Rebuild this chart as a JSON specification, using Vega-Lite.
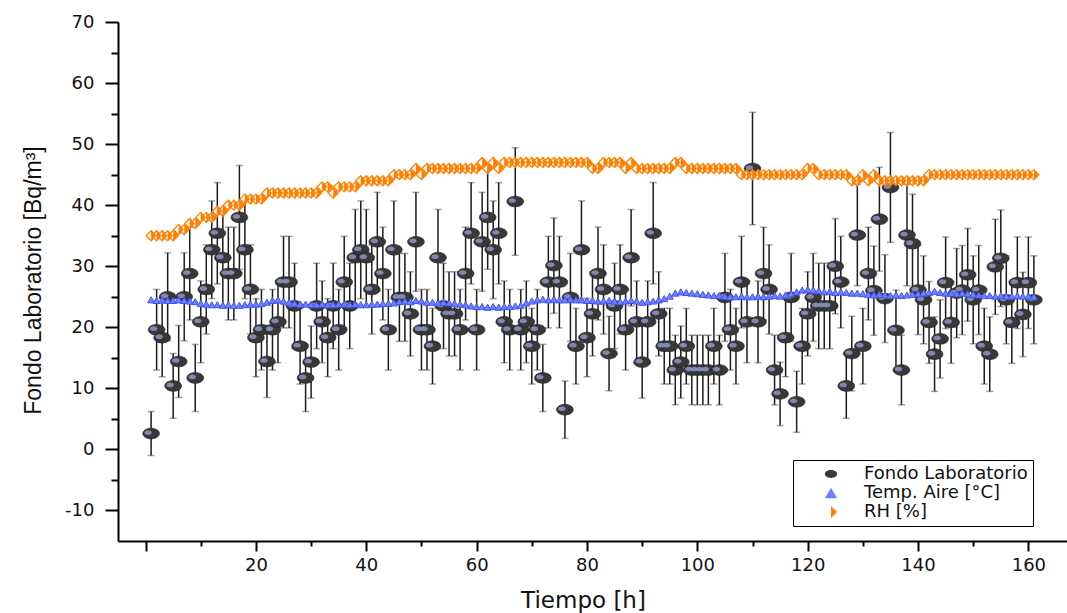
{
  "$schema": "https://vega.github.io/schema/vega-lite/v6.json",
  "width": 949,
  "height": 519,
  "autosize": {"type": "none"},
  "padding": {"left": 118, "top": 22, "right": 0, "bottom": 72},
  "background": "white",
  "config": {
    "view": {"stroke": null},
    "axis": {"grid": false},
    "legend": {"symbolOpacity": 1}
  },
  "datasets": {
    "radon": [
      {"t":1,"v":2.6,"e":3.6},{"t":2,"v":19.6,"e":6.6},{"t":3,"v":18.3,"e":6.4},{"t":4,"v":25.0,"e":7.2},{"t":5,"v":10.4,"e":5.3},
      {"t":6,"v":14.4,"e":5.9},{"t":7,"v":25.0,"e":7.2},{"t":8,"v":28.8,"e":7.6},{"t":9,"v":11.7,"e":5.5},{"t":10,"v":20.9,"e":6.7},
      {"t":11,"v":26.2,"e":7.3},{"t":12,"v":32.7,"e":8.0},{"t":13,"v":35.4,"e":8.3},{"t":14,"v":31.4,"e":7.9},{"t":15,"v":28.8,"e":7.6},
      {"t":16,"v":28.8,"e":7.6},{"t":17,"v":38.0,"e":8.5},{"t":18,"v":32.7,"e":8.0},{"t":19,"v":26.2,"e":7.3},{"t":20,"v":18.3,"e":6.4},
      {"t":21,"v":19.6,"e":6.6},{"t":22,"v":14.4,"e":5.9},{"t":23,"v":19.6,"e":6.6},{"t":24,"v":20.9,"e":6.7},{"t":25,"v":27.4,"e":7.5},
      {"t":26,"v":27.4,"e":7.5},{"t":27,"v":23.5,"e":7.0},{"t":28,"v":16.9,"e":6.2},{"t":29,"v":11.7,"e":5.5},{"t":30,"v":14.3,"e":5.9},
      {"t":31,"v":23.5,"e":7.0},{"t":32,"v":20.9,"e":6.7},{"t":33,"v":18.3,"e":6.4},{"t":34,"v":23.5,"e":7.0},{"t":35,"v":19.6,"e":6.6},
      {"t":36,"v":27.4,"e":7.5},{"t":37,"v":23.5,"e":7.0},{"t":38,"v":31.4,"e":7.9},{"t":39,"v":32.7,"e":8.0},{"t":40,"v":31.4,"e":7.9},
      {"t":41,"v":26.2,"e":7.3},{"t":42,"v":34.0,"e":8.1},{"t":43,"v":28.8,"e":7.6},{"t":44,"v":19.6,"e":6.6},{"t":45,"v":32.7,"e":8.0},
      {"t":46,"v":24.9,"e":7.2},{"t":47,"v":24.9,"e":7.2},{"t":48,"v":22.2,"e":6.9},{"t":49,"v":34.0,"e":8.1},{"t":50,"v":19.6,"e":6.6},
      {"t":51,"v":19.6,"e":6.6},{"t":52,"v":16.9,"e":6.2},{"t":53,"v":31.4,"e":7.9},{"t":54,"v":23.5,"e":7.0},{"t":55,"v":22.2,"e":6.9},
      {"t":56,"v":22.2,"e":6.9},{"t":57,"v":19.6,"e":6.6},{"t":58,"v":28.8,"e":7.6},{"t":59,"v":35.4,"e":8.3},{"t":60,"v":19.6,"e":6.6},
      {"t":61,"v":34.0,"e":8.1},{"t":62,"v":38.0,"e":8.5},{"t":63,"v":32.7,"e":8.0},{"t":64,"v":35.4,"e":8.3},{"t":65,"v":20.9,"e":6.7},
      {"t":66,"v":19.6,"e":6.6},{"t":67,"v":40.6,"e":8.8},{"t":68,"v":19.6,"e":6.6},{"t":69,"v":20.9,"e":6.7},{"t":70,"v":16.9,"e":6.2},
      {"t":71,"v":19.6,"e":6.6},{"t":72,"v":11.7,"e":5.5},{"t":73,"v":27.4,"e":7.5},{"t":74,"v":30.1,"e":7.8},{"t":75,"v":27.4,"e":7.5},
      {"t":76,"v":6.5,"e":4.7},{"t":77,"v":24.9,"e":7.2},{"t":78,"v":16.9,"e":6.2},{"t":79,"v":32.7,"e":8.0},{"t":80,"v":18.3,"e":6.4},
      {"t":81,"v":22.2,"e":6.9},{"t":82,"v":28.8,"e":7.6},{"t":83,"v":26.2,"e":7.3},{"t":84,"v":15.7,"e":6.1},{"t":85,"v":23.5,"e":7.0},
      {"t":86,"v":26.2,"e":7.3},{"t":87,"v":19.6,"e":6.6},{"t":88,"v":31.4,"e":7.9},{"t":89,"v":20.9,"e":6.7},{"t":90,"v":14.3,"e":5.9},
      {"t":91,"v":20.9,"e":6.7},{"t":92,"v":35.4,"e":8.3},{"t":93,"v":22.2,"e":6.9},{"t":94,"v":16.9,"e":6.2},{"t":95,"v":16.9,"e":6.2},
      {"t":96,"v":13.0,"e":5.7},{"t":97,"v":14.3,"e":5.9},{"t":98,"v":16.9,"e":6.2},{"t":99,"v":13.0,"e":5.7},{"t":100,"v":13.0,"e":5.7},
      {"t":101,"v":13.0,"e":5.7},{"t":102,"v":13.0,"e":5.7},{"t":103,"v":16.9,"e":6.2},{"t":104,"v":13.0,"e":5.7},{"t":105,"v":24.9,"e":7.2},
      {"t":106,"v":19.6,"e":6.6},{"t":107,"v":16.9,"e":6.2},{"t":108,"v":27.4,"e":7.5},{"t":109,"v":20.9,"e":6.7},{"t":110,"v":46.0,"e":9.2},
      {"t":111,"v":20.9,"e":6.7},{"t":112,"v":28.8,"e":7.6},{"t":113,"v":26.2,"e":7.3},{"t":114,"v":13.0,"e":5.7},{"t":115,"v":9.1,"e":5.2},
      {"t":116,"v":18.3,"e":6.4},{"t":117,"v":24.9,"e":7.2},{"t":118,"v":7.8,"e":5.0},{"t":119,"v":16.9,"e":6.2},{"t":120,"v":22.2,"e":6.9},
      {"t":121,"v":24.9,"e":7.2},{"t":122,"v":23.5,"e":7.0},{"t":123,"v":23.5,"e":7.0},{"t":124,"v":23.5,"e":7.0},{"t":125,"v":30.0,"e":7.8},
      {"t":126,"v":27.4,"e":7.5},{"t":127,"v":10.4,"e":5.3},{"t":128,"v":15.7,"e":6.1},{"t":129,"v":35.1,"e":8.3},{"t":130,"v":16.9,"e":6.2},
      {"t":131,"v":28.8,"e":7.6},{"t":132,"v":26.0,"e":7.3},{"t":133,"v":37.7,"e":8.5},{"t":134,"v":24.7,"e":7.2},{"t":135,"v":42.9,"e":9.0},
      {"t":136,"v":19.5,"e":6.6},{"t":137,"v":13.0,"e":5.7},{"t":138,"v":35.1,"e":8.3},{"t":139,"v":33.7,"e":8.1},{"t":140,"v":26.1,"e":7.3},
      {"t":141,"v":24.5,"e":7.2},{"t":142,"v":20.8,"e":6.7},{"t":143,"v":15.6,"e":6.1},{"t":144,"v":18.1,"e":6.4},{"t":145,"v":27.3,"e":7.5},
      {"t":146,"v":20.8,"e":6.7},{"t":147,"v":25.6,"e":7.3},{"t":148,"v":26.1,"e":7.3},{"t":149,"v":28.6,"e":7.6},{"t":150,"v":24.5,"e":7.2},
      {"t":151,"v":26.1,"e":7.3},{"t":152,"v":16.9,"e":6.2},{"t":153,"v":15.6,"e":6.1},{"t":154,"v":29.9,"e":7.8},{"t":155,"v":31.3,"e":7.9},
      {"t":156,"v":24.5,"e":7.2},{"t":157,"v":20.8,"e":6.7},{"t":158,"v":27.3,"e":7.5},{"t":159,"v":22.1,"e":6.9},{"t":160,"v":27.3,"e":7.5},
      {"t":161,"v":24.5,"e":7.2}
    ],
    "temp": [
      {"t":1,"v":24.5},{"t":2,"v":24.4},{"t":3,"v":24.5},{"t":4,"v":24.4},{"t":5,"v":24.4},{"t":6,"v":24.5},{"t":7,"v":24.4},{"t":8,"v":24.3},{"t":9,"v":24.2},
      {"t":10,"v":23.9},{"t":11,"v":23.8},{"t":12,"v":23.7},{"t":13,"v":23.7},{"t":14,"v":23.6},{"t":15,"v":23.7},{"t":16,"v":23.6},{"t":17,"v":23.6},{"t":18,"v":23.7},{"t":19,"v":23.8},{"t":20,"v":23.8},{"t":21,"v":23.9},{"t":22,"v":24.1},
      {"t":23,"v":24.4},{"t":24,"v":24.5},{"t":25,"v":24.3},{"t":26,"v":24.1},
      {"t":27,"v":23.9},{"t":28,"v":23.8},{"t":29,"v":23.8},{"t":30,"v":23.7},{"t":31,"v":23.7},{"t":32,"v":23.8},{"t":33,"v":23.7},{"t":34,"v":23.7},{"t":35,"v":23.8},{"t":36,"v":23.8},{"t":37,"v":23.7},{"t":38,"v":23.8},{"t":39,"v":23.7},{"t":40,"v":23.7},{"t":41,"v":23.8},{"t":42,"v":23.8},{"t":43,"v":23.9},{"t":44,"v":23.9},{"t":45,"v":24.0},
      {"t":46,"v":24.2},{"t":47,"v":24.3},{"t":48,"v":24.2},{"t":49,"v":24.4},{"t":50,"v":24.3},{"t":51,"v":24.1},{"t":52,"v":24.1},{"t":53,"v":24.0},{"t":54,"v":24.1},{"t":55,"v":24.0},{"t":56,"v":23.9},{"t":57,"v":23.8},{"t":58,"v":23.7},
      {"t":59,"v":23.5},{"t":60,"v":23.4},{"t":61,"v":23.4},{"t":62,"v":23.3},{"t":63,"v":23.4},{"t":64,"v":23.3},{"t":65,"v":23.4},{"t":66,"v":23.4},{"t":67,"v":23.5},{"t":68,"v":23.6},
      {"t":69,"v":24.0},{"t":70,"v":24.3},{"t":71,"v":24.5},{"t":72,"v":24.6},{"t":73,"v":24.5},{"t":74,"v":24.6},{"t":75,"v":24.5},{"t":76,"v":24.5},{"t":77,"v":24.6},{"t":78,"v":24.5},{"t":79,"v":24.5},
      {"t":80,"v":24.4},{"t":81,"v":24.4},{"t":82,"v":24.3},{"t":83,"v":24.3},{"t":84,"v":24.4},{"t":85,"v":24.3},{"t":86,"v":24.2},{"t":87,"v":24.3},{"t":88,"v":24.4},{"t":89,"v":24.3},{"t":90,"v":24.1},{"t":91,"v":24.2},{"t":92,"v":24.3},{"t":93,"v":24.5},{"t":94,"v":24.7},{"t":95,"v":25.1},
      {"t":96,"v":25.6},{"t":97,"v":25.8},{"t":98,"v":25.7},{"t":99,"v":25.6},{"t":100,"v":25.5},
      {"t":101,"v":25.4},{"t":102,"v":25.3},{"t":103,"v":25.2},{"t":104,"v":25.2},{"t":105,"v":25.1},{"t":106,"v":25.0},{"t":107,"v":25.0},{"t":108,"v":25.1},{"t":109,"v":25.0},{"t":110,"v":25.0},{"t":111,"v":25.1},{"t":112,"v":25.0},{"t":113,"v":25.1},{"t":114,"v":25.2},{"t":115,"v":25.1},{"t":116,"v":25.3},{"t":117,"v":25.5},{"t":118,"v":25.8},
      {"t":119,"v":26.1},{"t":120,"v":26.2},{"t":121,"v":26.1},{"t":122,"v":26.0},
      {"t":123,"v":25.8},{"t":124,"v":25.9},{"t":125,"v":25.7},{"t":126,"v":25.8},{"t":127,"v":25.7},{"t":128,"v":25.6},{"t":129,"v":25.6},{"t":130,"v":25.5},
      {"t":131,"v":25.4},{"t":132,"v":25.3},{"t":133,"v":25.4},{"t":134,"v":25.3},{"t":135,"v":25.2},{"t":136,"v":25.3},{"t":137,"v":25.2},{"t":138,"v":25.3},{"t":139,"v":25.4},{"t":140,"v":25.5},
      {"t":141,"v":25.6},{"t":142,"v":25.7},{"t":143,"v":25.9},{"t":144,"v":25.7},{"t":145,"v":25.6},{"t":146,"v":25.6},{"t":147,"v":25.5},{"t":148,"v":25.6},{"t":149,"v":25.5},{"t":150,"v":25.4},
      {"t":151,"v":25.3},{"t":152,"v":25.2},{"t":153,"v":25.2},{"t":154,"v":25.1},{"t":155,"v":25.2},{"t":156,"v":25.1},{"t":157,"v":25.1},{"t":158,"v":25.2},{"t":159,"v":25.1},{"t":160,"v":25.1},{"t":161,"v":25.0}
    ],
    "rh": [
      {"t":1,"v":35},{"t":2,"v":35},{"t":3,"v":35},{"t":4,"v":35},{"t":5,"v":35},{"t":6,"v":36},{"t":7,"v":36},{"t":8,"v":37},{"t":9,"v":37},{"t":10,"v":38},
      {"t":11,"v":38},{"t":12,"v":38},{"t":13,"v":39},{"t":14,"v":39},{"t":15,"v":40},{"t":16,"v":40},{"t":17,"v":40},{"t":18,"v":41},{"t":19,"v":41},{"t":20,"v":41},
      {"t":21,"v":41},{"t":22,"v":42},{"t":23,"v":42},{"t":24,"v":42},{"t":25,"v":42},{"t":26,"v":42},{"t":27,"v":42},{"t":28,"v":42},{"t":29,"v":42},{"t":30,"v":42},
      {"t":31,"v":42},{"t":32,"v":43},{"t":33,"v":43},{"t":34,"v":42},{"t":35,"v":43},{"t":36,"v":43},{"t":37,"v":43},{"t":38,"v":43},{"t":39,"v":44},{"t":40,"v":44},
      {"t":41,"v":44},{"t":42,"v":44},{"t":43,"v":44},{"t":44,"v":44},{"t":45,"v":45},{"t":46,"v":45},{"t":47,"v":45},{"t":48,"v":45},{"t":49,"v":46},{"t":50,"v":45},
      {"t":51,"v":46},{"t":52,"v":46},{"t":53,"v":46},{"t":54,"v":46},{"t":55,"v":46},{"t":56,"v":46},{"t":57,"v":46},{"t":58,"v":46},{"t":59,"v":46},{"t":60,"v":46},
      {"t":61,"v":47},{"t":62,"v":46},{"t":63,"v":47},{"t":64,"v":46},{"t":65,"v":47},{"t":66,"v":47},{"t":67,"v":47},{"t":68,"v":47},{"t":69,"v":47},{"t":70,"v":47},
      {"t":71,"v":47},{"t":72,"v":47},{"t":73,"v":47},{"t":74,"v":47},{"t":75,"v":47},{"t":76,"v":47},{"t":77,"v":47},{"t":78,"v":47},{"t":79,"v":47},{"t":80,"v":47},
      {"t":81,"v":46},{"t":82,"v":46},{"t":83,"v":47},{"t":84,"v":47},{"t":85,"v":47},{"t":86,"v":47},{"t":87,"v":46},{"t":88,"v":47},{"t":89,"v":46},{"t":90,"v":46},
      {"t":91,"v":46},{"t":92,"v":46},{"t":93,"v":46},{"t":94,"v":46},{"t":95,"v":46},{"t":96,"v":47},{"t":97,"v":47},{"t":98,"v":46},{"t":99,"v":46},{"t":100,"v":46},
      {"t":101,"v":46},{"t":102,"v":46},{"t":103,"v":46},{"t":104,"v":46},{"t":105,"v":46},{"t":106,"v":46},{"t":107,"v":46},{"t":108,"v":45},{"t":109,"v":45},{"t":110,"v":45},
      {"t":111,"v":45},{"t":112,"v":45},{"t":113,"v":45},{"t":114,"v":45},{"t":115,"v":45},{"t":116,"v":45},{"t":117,"v":45},{"t":118,"v":45},{"t":119,"v":45},{"t":120,"v":46},
      {"t":121,"v":46},{"t":122,"v":45},{"t":123,"v":45},{"t":124,"v":45},{"t":125,"v":45},{"t":126,"v":45},{"t":127,"v":45},{"t":128,"v":44},{"t":129,"v":44},{"t":130,"v":45},
      {"t":131,"v":44},{"t":132,"v":45},{"t":133,"v":44},{"t":134,"v":44},{"t":135,"v":44},{"t":136,"v":44},{"t":137,"v":44},{"t":138,"v":44},{"t":139,"v":44},{"t":140,"v":44},
      {"t":141,"v":44},{"t":142,"v":45},{"t":143,"v":45},{"t":144,"v":45},{"t":145,"v":45},{"t":146,"v":45},{"t":147,"v":45},{"t":148,"v":45},{"t":149,"v":45},{"t":150,"v":45},
      {"t":151,"v":45},{"t":152,"v":45},{"t":153,"v":45},{"t":154,"v":45},{"t":155,"v":45},{"t":156,"v":45},{"t":157,"v":45},{"t":158,"v":45},{"t":159,"v":45},{"t":160,"v":45},
      {"t":161,"v":45}
    ]
  },
  "resolve": {"axis": {"x": "independent", "y": "independent"}},
  "layer": [
    {
      "data": {"name": "radon"},
      "mark": {"type": "errorbar", "ticks": {"size": 7, "thickness": 1.5, "color": "#7a7a7a"}, "rule": {"color": "#1c1c1c", "strokeWidth": 1.5}},
      "encoding": {
        "x": {"field": "t", "type": "quantitative", "scale": {"domain": [-5, 167], "nice": false, "zero": false}, "axis": null},
        "y": {"field": "v", "type": "quantitative", "scale": {"domain": [-15, 70], "nice": false, "zero": false}, "axis": null},
        "yError": {"field": "e"}
      }
    },
    {
      "data": {"name": "radon"},
      "mark": {"type": "point", "filled": true, "opacity": 1, "size": 280, "stroke": "#1e1e1e", "strokeWidth": 0.6},
      "encoding": {
        "x": {"field": "t", "type": "quantitative", "scale": {"domain": [-5, 167], "nice": false, "zero": false},
          "axis": {"orient": "bottom", "values": [0, 20, 40, 60, 80, 100, 120, 140, 160], "labelExpr": "datum.value == 0 ? '' : datum.label",
            "domainColor": "#000", "domainWidth": 2, "tickColor": "#000", "tickWidth": 2, "tickSize": 10,
            "labelFont": "DejaVu Sans", "labelFontSize": 18, "labelColor": "#111", "labelPadding": 5, "labelFlush": false,
            "title": "Tiempo [h]", "titleFont": "DejaVu Sans", "titleFontSize": 23, "titleFontWeight": "normal", "titleColor": "#111",
            "titleX": 465, "titleY": 66, "titleBaseline": "alphabetic", "titleAlign": "center", "titleAnchor": "start"}},
        "y": {"field": "v", "type": "quantitative", "scale": {"domain": [-15, 70], "nice": false, "zero": false},
          "axis": {"orient": "left", "values": [-10, 0, 10, 20, 30, 40, 50, 60, 70], "labelExpr": "replace(datum.label, '−', '-')",
            "domainColor": "#000", "domainWidth": 2, "tickColor": "#000", "tickWidth": 2, "tickSize": 13,
            "labelFont": "DejaVu Sans", "labelFontSize": 18, "labelColor": "#111", "labelPadding": 11, "labelFlush": false,
            "title": "Fondo Laboratorio [Bq/m³]", "titleFont": "Liberation Sans Narrow, Liberation Sans, sans-serif", "titleFontSize": 23, "titleFontWeight": "normal", "titleColor": "#111",
            "titleX": -78, "titleY": 258, "titleAngle": 270, "titleBaseline": "alphabetic", "titleAlign": "center", "titleAnchor": "start"}},
        "color": {"datum": "Fondo Laboratorio", "type": "nominal",
          "scale": {"domain": ["Fondo Laboratorio", "Temp. Aire [°C]", "RH [%]"], "range": ["#383838", "#6f80ff", "#ff8000"]},
          "legend": {"title": null, "orient": "none", "legendX": 675, "legendY": 438, "strokeColor": "#000", "fillColor": "#fff",
            "padding": 5, "symbolOffset": 24, "labelOffset": 24, "labelFont": "DejaVu Sans", "labelFontSize": 18, "labelColor": "#111",
            "labelExpr": "datum.label + '\u00a0\u00a0\u00a0\u00a0'",
            "rowPadding": 1, "symbolSize": 150, "symbolStrokeWidth": 0, "labelLimit": 400}},
        "shape": {"datum": "Fondo Laboratorio", "type": "nominal",
          "scale": {"domain": ["Fondo Laboratorio", "Temp. Aire [°C]", "RH [%]"], "range": ["M-1,0A1,0.64,0,1,0,1,0A1,0.64,0,1,0,-1,0Z", "triangle-up", "M0,-1L1,0L0,1Z"]},
          "legend": {"title": null, "orient": "none", "legendX": 675, "legendY": 438, "strokeColor": "#000", "fillColor": "#fff",
            "padding": 5, "symbolOffset": 24, "labelOffset": 24, "labelFont": "DejaVu Sans", "labelFontSize": 18, "labelColor": "#111",
            "labelExpr": "datum.label + '\u00a0\u00a0\u00a0\u00a0'",
            "rowPadding": 1, "symbolSize": 150, "symbolStrokeWidth": 0, "labelLimit": 400}}
      }
    },
    {
      "data": {"name": "radon"},
      "mark": {"type": "point", "filled": true, "opacity": 0.85, "size": 55, "shape": "M-1,0A1,0.64,0,1,0,1,0A1,0.64,0,1,0,-1,0Z", "color": "#8d95c6", "xOffset": -3, "yOffset": -1},
      "encoding": {
        "x": {"field": "t", "type": "quantitative", "scale": {"domain": [-5, 167], "nice": false, "zero": false}, "axis": null},
        "y": {"field": "v", "type": "quantitative", "scale": {"domain": [-15, 70], "nice": false, "zero": false}, "axis": null}
      }
    },
    {
      "data": {"name": "temp"},
      "mark": {"type": "point", "filled": true, "opacity": 1, "size": 50, "stroke": "#4356f0", "strokeWidth": 1},
      "encoding": {
        "x": {"field": "t", "type": "quantitative", "scale": {"domain": [-5, 167], "nice": false, "zero": false},
          "axis": {"orient": "bottom", "values": [10, 30, 50, 70, 90, 110, 130, 150], "labels": false, "domain": false,
            "tickColor": "#000", "tickWidth": 2, "tickSize": 5, "title": null}},
        "y": {"field": "v", "type": "quantitative", "scale": {"domain": [-15, 70], "nice": false, "zero": false},
          "axis": {"orient": "left", "values": [-5, 5, 15, 25, 35, 45, 55, 65], "labels": false, "domain": false,
            "tickColor": "#000", "tickWidth": 2, "tickSize": 7, "title": null}},
        "color": {"datum": "Temp. Aire [°C]", "type": "nominal"},
        "shape": {"datum": "Temp. Aire [°C]", "type": "nominal"}
      }
    },
    {
      "data": {"name": "rh"},
      "mark": {"type": "point", "filled": false, "opacity": 1, "size": 100, "shape": "M0,-1L1,0L0,1L-1,0Z", "stroke": "#ff8000", "strokeWidth": 1.3, "fill": "#ffffff", "fillOpacity": 0.6},
      "encoding": {
        "x": {"field": "t", "type": "quantitative", "scale": {"domain": [-5, 167], "nice": false, "zero": false}, "axis": null},
        "y": {"field": "v", "type": "quantitative", "scale": {"domain": [-15, 70], "nice": false, "zero": false}, "axis": null}
      }
    },
    {
      "data": {"name": "rh"},
      "mark": {"type": "point", "filled": true, "opacity": 1, "size": 100},
      "encoding": {
        "x": {"field": "t", "type": "quantitative", "scale": {"domain": [-5, 167], "nice": false, "zero": false}, "axis": null},
        "y": {"field": "v", "type": "quantitative", "scale": {"domain": [-15, 70], "nice": false, "zero": false}, "axis": null},
        "color": {"datum": "RH [%]", "type": "nominal"},
        "shape": {"datum": "RH [%]", "type": "nominal"}
      }
    }
  ]
}
